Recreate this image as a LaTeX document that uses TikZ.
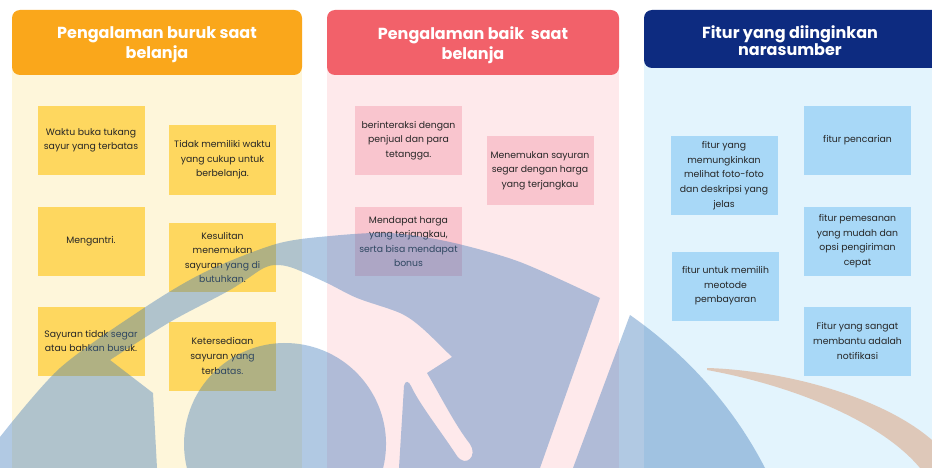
\documentclass[tikz,border=0pt]{standalone}
\usepackage{fontspec}
\setmainfont{Poppins}
\definecolor{bgA}{HTML}{FEF6DA}
\definecolor{hdA}{HTML}{FAA71B}
\definecolor{ntA}{HTML}{FED75F}
\definecolor{bgB}{HTML}{FEE9EB}
\definecolor{hdB}{HTML}{F2616A}
\definecolor{ntB}{HTML}{F9C5CE}
\definecolor{bgC}{HTML}{E3F4FD}
\definecolor{hdC}{HTML}{0D2B80}
\definecolor{ntC}{HTML}{A8D8F7}
\definecolor{wmblue}{RGB}{60,120,185}
\definecolor{wmorange}{RGB}{215,120,60}
\tikzset{
  header/.style={rounded corners=8pt, minimum height=65pt, align=center,
    text=white, font=\fontsize{16}{20}\selectfont\bfseries},
  stickynote/.style={minimum width=107pt, minimum height=69pt, align=center,
    inner sep=0pt, text=black!85, font=\fontsize{9.3}{14.6}\selectfont},
  wm/.style={fill=wmblue, fill opacity=0.4},
  wmo/.style={fill=wmorange, fill opacity=0.35},
}
\begin{document}
\begin{tikzpicture}[x=1pt,y=-1pt]
\useasboundingbox (0,0) rectangle (932,468);
\fill[white] (0,0) rectangle (932,468);

% column backgrounds
\fill[bgA] (12,40) rectangle (302,468);
\fill[bgB] (327,40) rectangle (619,468);
\fill[bgC] (644,40) rectangle (940,468);

% column headers
\fill[hdA, rounded corners=8pt] (12,10) rectangle (302,75);
\fill[hdB, rounded corners=8pt] (327,10) rectangle (619,75);
\fill[hdC, rounded corners=8pt] (644,10) rectangle (950,68);
\node[header] (hA) at (157,45) {Pengalaman buruk saat\\belanja};
\node[header] (hB) at (473,45) {Pengalaman baik~ saat\\belanja};
\node[header, font=\fontsize{16}{13.5}\selectfont\bfseries] (hC) at (790,41) {Fitur yang diinginkan\\narasumber};

% bad experiences
\node[stickynote, fill=ntA] (a1) at (91,140.5) {Waktu buka tukang\\sayur yang terbatas};
\node[stickynote, fill=ntA] (a2) at (222.5,160) {Tidak memiliki waktu\\yang cukup untuk\\berbelanja.};
\node[stickynote, fill=ntA] (a3) at (91,241) {Mengantri.};
\node[stickynote, fill=ntA] (a4) at (222.5,257.5) {Kesulitan\\menemukan\\sayuran yang di\\butuhkan.};
\node[stickynote, fill=ntA] (a5) at (91,341) {Sayuran tidak segar\\atau bahkan busuk.};
\node[stickynote, fill=ntA] (a6) at (222.5,356) {Ketersediaan\\sayuran yang\\terbatas.};

% good experiences
\node[stickynote, fill=ntB] (b1) at (408.5,140.5) {berinteraksi dengan\\penjual dan para\\tetangga.};
\node[stickynote, fill=ntB] (b2) at (540,170.5) {Menemukan sayuran\\segar dengan harga\\yang terjangkau};
\node[stickynote, fill=ntB] (b3) at (408.5,241.5) {Mendapat harga\\yang terjangkau,\\serta bisa mendapat\\bonus};

% wanted features
\node[stickynote, fill=ntC, minimum height=79pt] (c1) at (724,175.5) {fitur yang\\memungkinkan\\melihat foto-foto\\dan deskripsi yang\\jelas};
\node[stickynote, fill=ntC] (c2) at (857.5,140.5) {fitur pencarian};
\node[stickynote, fill=ntC] (c3) at (857.5,241) {fitur pemesanan\\yang mudah dan\\opsi pengiriman\\cepat};
\node[stickynote, fill=ntC] (c4) at (725.5,286) {fitur untuk memilih\\meotode\\pembayaran};
\node[stickynote, fill=ntC] (c5) at (857.5,341) {Fitur yang sangat\\membantu adalah\\notifikasi};

% translucent logo mark over the board
\begin{scope}
\clip (0,0) rectangle (932,468);
\fill[wm, even odd rule]
  plot[smooth] coordinates {(0,437) (60,368) (144,308) (205,272) (276,244) (330,236) (390,233) (450,242) (520,262) (600,298)}
  -- (540,468) -- (0,468) -- cycle
  plot[smooth] coordinates {(110,360) (170,322) (230,290) (262,269) (276,265) (293,268) (327,283) (357,298) (400,313) (422,328) (452,357)}
  -- (427,373) .. controls (440,395) and (455,425) .. (470,444)
  .. controls (478,456) and (466,468) .. (457,456)
  .. controls (440,430) and (420,405) .. (411,386)
  .. controls (409,381) and (405,380) .. (404,386)
  -- (399,468) -- (383.1,468.1) arc[start angle=13.8, end angle=-193.8, radius=101]
  -- (157,468) -- (153,393) -- cycle;
\fill[wm] (630,315) .. controls (680,350) and (730,400) .. (765,468) -- (573,468) -- cycle;
\fill[wmo] (707,368) .. controls (780,370) and (880,395) .. (932,440) -- (932,468) -- (920,468)
  .. controls (880,420) and (790,385) .. (707,370) -- cycle;
\end{scope}
\end{tikzpicture}
\end{document}
